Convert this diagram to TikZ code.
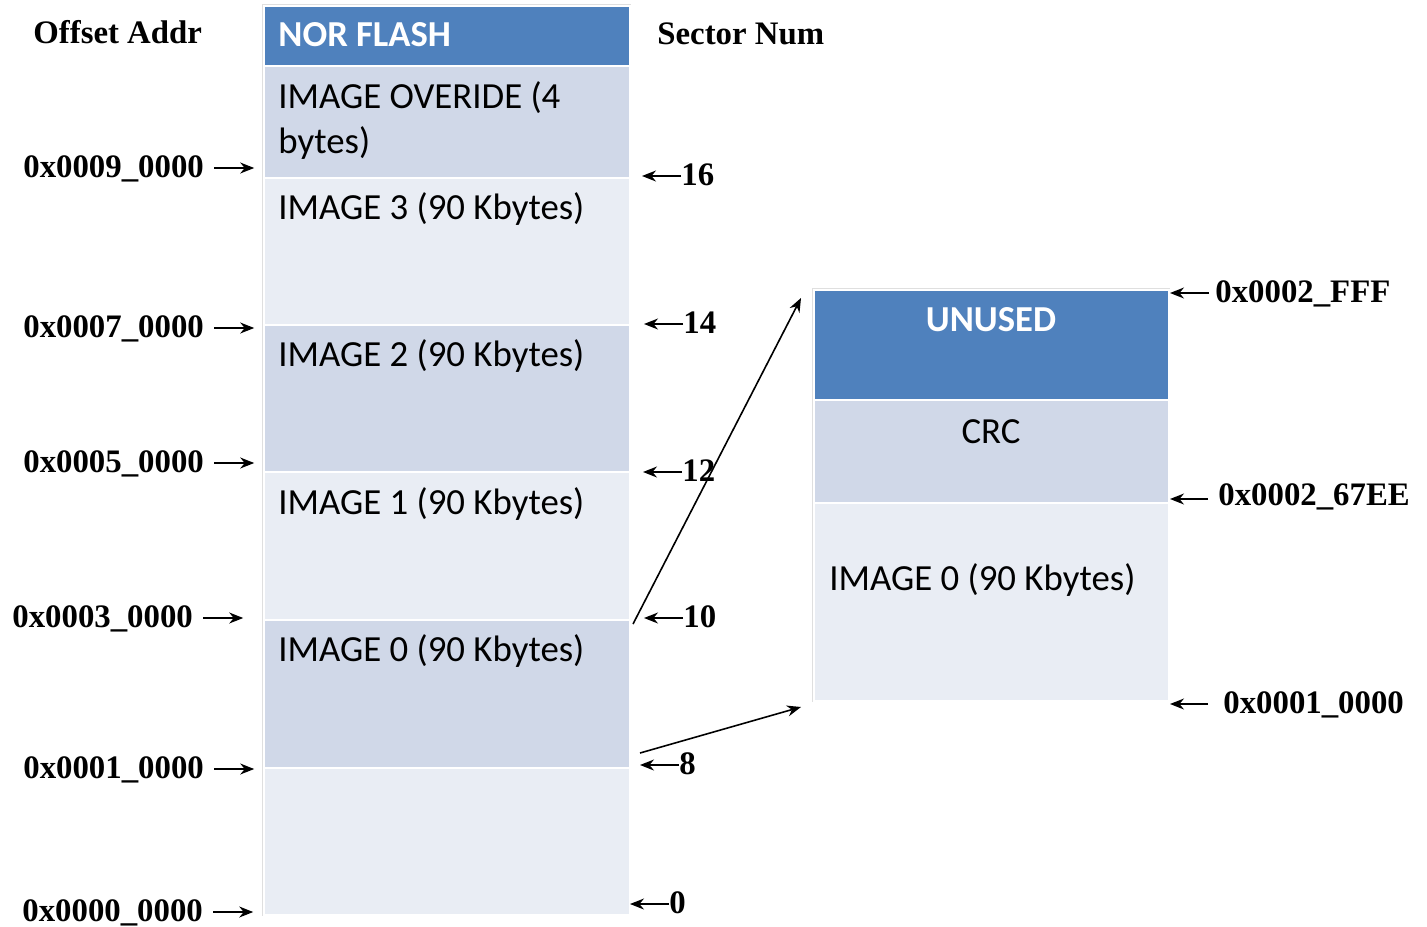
\documentclass[tikz,border=0pt]{standalone}
\usepackage{fontspec}
\setmainfont{Liberation Serif}
\newfontfamily\calibri{Carlito}
\usetikzlibrary{arrows.meta}
\definecolor{hdrblue}{HTML}{4F81BD}
\definecolor{rowdark}{HTML}{D0D8E8}
\definecolor{rowlight}{HTML}{E9EDF4}
\begin{document}
\begin{tikzpicture}[x=0.5pt,y=-0.5pt,
  cell/.style 2 args={draw=white, line width=1pt, anchor=north west, inner sep=0pt,
    minimum width=#1, minimum height=#2},
  celltxt/.style={inner sep=0pt, anchor=base west, font=\calibri\fontsize{18.4}{24}\selectfont},
  hdrtxt/.style={celltxt, text=white, font=\calibri\bfseries\fontsize{18.3}{24}\selectfont},
  tnr/.style={inner sep=0pt, anchor=base west, font=\bfseries\fontsize{16.4}{20}\selectfont},
  arr/.style={line width=0.75pt, -{Stealth[length=7pt,width=5.5pt]}},
  link/.style={line width=0.8pt, -{Stealth[length=7pt,width=5.5pt]}}]
\useasboundingbox (0,0) rectangle (1427,926);

% ---- NOR flash column ----
\draw[gray!25, line width=0.4pt] (262,4) rectangle (630,915);
\node[cell={183pt}{30pt}, fill=hdrblue]    (nor)  at (263,5)   {};
\node[cell={183pt}{56pt}, fill=rowdark]    (ovr)  at (263,65)  {};
\node[cell={183pt}{73.5pt}, fill=rowlight] (img3) at (263,177) {};
\node[cell={183pt}{73.5pt}, fill=rowdark]  (img2) at (263,324) {};
\node[cell={183pt}{74pt}, fill=rowlight]   (img1) at (263,471) {};
\node[cell={183pt}{74pt}, fill=rowdark]    (img0) at (263,619) {};
\node[cell={183pt}{73.5pt}, fill=rowlight] (boot) at (263,767) {};

\node[hdrtxt]  (tnor)  at (278,46)  {NOR FLASH};
\node[celltxt] (tovr1) at (278,108) {IMAGE OVERIDE (4};
\node[celltxt] (tovr2) at (278,153) {bytes)};
\node[celltxt] (timg3) at (278,219) {IMAGE 3 (90 Kbytes)};
\node[celltxt] (timg2) at (278,366) {IMAGE 2 (90 Kbytes)};
\node[celltxt] (timg1) at (278,514) {IMAGE 1 (90 Kbytes)};
\node[celltxt] (timg0) at (278,661) {IMAGE 0 (90 Kbytes)};

% ---- expanded image 0 ----
\draw[gray!25, line width=0.4pt] (812,288) rectangle (1169,701);
\node[cell={177.5pt}{55pt}, fill=hdrblue]  (unused) at (813,289) {};
\node[cell={177.5pt}{51.5pt}, fill=rowdark] (crc)   at (813,399) {};
\node[cell={177.5pt}{99pt}, fill=rowlight]  (rimg0) at (813,502) {};

\node[hdrtxt, anchor=base]  (tunused) at (991,331) {UNUSED};
\node[celltxt, anchor=base] (tcrc)    at (991,443) {CRC};
\node[celltxt]              (trimg0)  at (829,590) {IMAGE 0 (90 Kbytes)};

% ---- column headings ----
\node[tnr] (hoff) at (33,43) {Offset Addr};
\node[tnr] (hsec) at (657,44) {Sector Num};

% ---- offset addresses ----
\node[tnr] (a9) at (23,177) {0x0009\_0000};
\node[tnr] (a7) at (23,337) {0x0007\_0000};
\node[tnr] (a5) at (23,472) {0x0005\_0000};
\node[tnr] (a3) at (12,627) {0x0003\_0000};
\node[tnr] (a1) at (23,778) {0x0001\_0000};
\node[tnr] (a0) at (22,921) {0x0000\_0000};
\foreach \n in {a9,a7,a5,a3,a1,a0}
  \draw[arr] (\n.base east) ++(10,-9) -- ++(40,0);

% ---- sector numbers ----
\node[tnr] (s16) at (681,185) {16};
\node[tnr] (s14) at (683,333) {14};
\node[tnr] (s12) at (682,481) {12};
\node[tnr] (s10) at (683,627) {10};
\node[tnr] (s8)  at (679,774) {8};
\node[tnr] (s0)  at (669,913) {0};
\foreach \n in {s16,s14,s12,s10,s8,s0}
  \draw[arr] (\n.base west) ++(0,-9) -- ++(-39,0);

% ---- addresses of the expanded image ----
\node[tnr] (r2fff) at (1215,302) {0x0002\_FFF};
\node[tnr] (r67ee) at (1218,505) {0x0002\_67EE};
\node[tnr] (r1000) at (1223,713) {0x0001\_0000};
\draw[arr] (r2fff.base west) ++(-6,-9) -- ++(-39,0);
\draw[arr] (r67ee.base west) ++(-10,-6) -- ++(-38,0);
\draw[arr] (r1000.base west) ++(-15,-9) -- ++(-38,0);

% ---- links from image 0 to its expansion ----
\draw[link] ([xshift=1pt,yshift=-2.5pt]img0.north east) -- ([xshift=-6pt,yshift=-4.5pt]unused.north west);
\draw[link] ([xshift=4.5pt,yshift=8pt]img0.south east) -- ([xshift=-6pt,yshift=-2.5pt]rimg0.south west);
\end{tikzpicture}
\end{document}
